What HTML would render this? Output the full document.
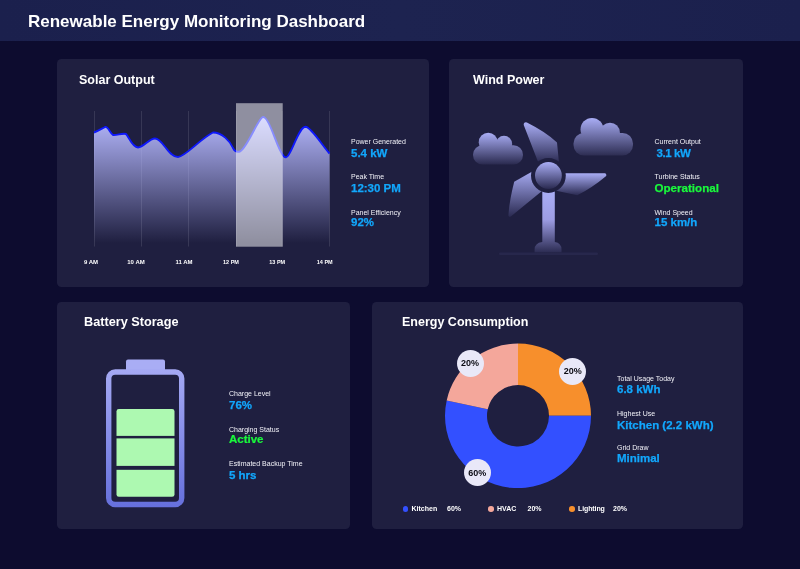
<!DOCTYPE html>
<html lang="en">
<head>
<meta charset="utf-8">
<title>Renewable Energy Monitoring Dashboard</title>
<style>
*{box-sizing:border-box;margin:0;padding:0}
html,body{width:800px;height:569px;overflow:hidden;background:#0d0c2f;font-family:"Liberation Sans",sans-serif;color:#fff}
.hdr{position:absolute;left:0;top:0;width:800px;height:41.200px;background:linear-gradient(90deg,#1b204d,#1d2350 50%,#1b204d)}
.hdr h1{position:absolute;left:28px;top:11.800px;font-size:17px;line-height:20px;font-weight:700;white-space:nowrap}
.card{position:absolute;background:#1f1f40;border-radius:4.500px}
.card h2{position:absolute;font-size:13px;line-height:16px;font-weight:700;white-space:nowrap}
.lb{position:absolute;font-size:7px;line-height:8px;white-space:nowrap;color:#f2f2f8}
.vl{position:absolute;font-size:11.5px;line-height:12px;font-weight:700;white-space:nowrap;color:#12a7fc;-webkit-text-stroke:0.250px currentColor}
.gr{color:#1af83c}
.ax{position:absolute;font-size:6px;line-height:8px;font-weight:700;white-space:nowrap;transform:translateX(-50%)}
.lg{position:absolute;font-size:7px;line-height:8px;font-weight:700;white-space:nowrap}
.dot{position:absolute;width:5.600px;height:5.600px;border-radius:50%}
.pc{position:absolute;width:27px;height:27px;border-radius:50%;background:#e9e8f8;color:#0c0c14;font-size:9px;font-weight:700;line-height:26px;text-align:center}
svg{position:absolute;left:0;top:0;overflow:visible}
</style>
</head>
<body>
<div class="hdr"><h1>Renewable Energy Monitoring Dashboard</h1></div>

<!-- Solar -->
<div class="card" style="left:57.200px;top:59px;width:371.400px;height:227.600px"></div>
<!-- Wind -->
<div class="card" style="left:449px;top:59px;width:293.800px;height:227.600px"></div>
<!-- Battery -->
<div class="card" style="left:57.200px;top:302px;width:292.800px;height:227px"></div>
<!-- Energy -->
<div class="card" style="left:372px;top:302px;width:370.800px;height:227px"></div>

<svg width="800" height="569" viewBox="0 0 800 569">
<defs>
<linearGradient id="ga" x1="0" y1="117" x2="0" y2="243" gradientUnits="userSpaceOnUse">
<stop offset="0" stop-color="#b6b9ff" stop-opacity="1"/>
<stop offset="1" stop-color="#b6b9ff" stop-opacity="0"/>
</linearGradient>
<linearGradient id="gc1" x1="0" y1="133" x2="0" y2="165" gradientUnits="userSpaceOnUse">
<stop offset="0" stop-color="#a9adf5"/><stop offset="1" stop-color="#28284c"/>
</linearGradient>
<linearGradient id="gc2" x1="0" y1="118" x2="0" y2="157" gradientUnits="userSpaceOnUse">
<stop offset="0" stop-color="#a9adf5"/><stop offset="1" stop-color="#28284c"/>
</linearGradient>
<linearGradient id="go" x1="0" y1="0" x2="0" y2="1">
<stop offset="0" stop-color="#a9adf5"/><stop offset="1" stop-color="#2a2a51"/>
</linearGradient>
<linearGradient id="gw" x1="0" y1="192" x2="0" y2="253" gradientUnits="userSpaceOnUse">
<stop offset="0" stop-color="#a9adf5"/><stop offset="0.45" stop-color="#9d9de4"/><stop offset="1" stop-color="#2a2a50"/>
</linearGradient>
<linearGradient id="gb" x1="0" y1="360" x2="0" y2="507" gradientUnits="userSpaceOnUse">
<stop offset="0" stop-color="#a9adf5"/><stop offset="1" stop-color="#6670dc"/>
</linearGradient>
</defs>

<!-- solar chart -->
<g>
<path d="M94.5 111V246.500M141.500 111V246.500M188.500 111V246.500M236.500 111V246.500M282.200 111V246.500M329.500 111V246.500" stroke="#fff" stroke-opacity="0.110" stroke-width="1" fill="none"/>
<path id="area" d="M94 132.5 C98 131 102 128.5 105 127 C108 126 110 133 113 135 C117 135.5 122 133 126 134 C129 137 132 147 138 147.5 C144 147 149 138.5 155 138.5 C163 138.5 168 157 178 157 C185 157 200 139 213 132.5 C222 132.5 230 141 233 148 C235 152 237 152.500 240 151.500 C247 148 257 121 262.300 117.300 Q263.300 116.500 264.500 117.500 C271 121 277 150 284 156.500 Q286 158.200 287.800 156 C293 150 299 127 305.500 126.800 C311 127 322 145 329.500 153.500 L329.5 246 L94 246Z" fill="url(#ga)"/>
<path d="M94 132.5 C98 131 102 128.5 105 127 C108 126 110 133 113 135 C117 135.5 122 133 126 134 C129 137 132 147 138 147.5 C144 147 149 138.5 155 138.5 C163 138.5 168 157 178 157 C185 157 200 139 213 132.5 C222 132.5 230 141 233 148 C235 152 237 152.500 240 151.500 C247 148 257 121 262.300 117.300 Q263.300 116.500 264.500 117.500 C271 121 277 150 284 156.500 Q286 158.200 287.800 156 C293 150 299 127 305.500 126.800 C311 127 322 145 329.500 153.500" fill="none" stroke="#0e18fb" stroke-width="1.900" stroke-linejoin="round"/>
<rect x="236" y="103.200" width="46.700" height="143.500" fill="#fff" fill-opacity="0.5"/>
</g>

<!-- wind -->
<g>
<g fill="url(#gc1)">
<rect x="473" y="145.300" width="50" height="19.200" rx="9.500"/>
<circle cx="488.200" cy="142.300" r="9.500"/>
<circle cx="504" cy="144" r="8.200"/>
</g>
<g fill="url(#gc2)">
<rect x="573.500" y="133" width="59.500" height="22.600" rx="10.500"/>
<circle cx="592" cy="129.500" r="11.500"/>
<circle cx="610" cy="132.600" r="9.900"/>
</g>
<path d="M538.500 163 L523.900 125.400 A2.200 2.200 0 0 1 526.900 122.500 Q546 132 557 142.500 L559 163 Z" fill="url(#go)"/>
<path d="M562 173.200 L604.700 173.300 A1.800 1.800 0 0 1 605.900 176.300 Q592 188 577.300 195.300 L555 190.500 Z" fill="url(#go)"/>
<path d="M534 170.500 L514.200 181.800 Q509.500 200 508.400 215.300 A1.500 1.500 0 0 0 510.800 216.500 L542 191 Z" fill="url(#go)"/>
<path d="M542.300 185 h12.500 v57 q6.700 1 6.700 7.500 v3 h-26.900 v-3 q0 -6.500 7.700 -7.500z" fill="url(#gw)"/>
<circle cx="548.400" cy="175.500" r="17.400" fill="#1f1f40"/>
<circle cx="548.400" cy="175.500" r="13.400" fill="url(#go)"/>
<rect x="499" y="252.500" width="99" height="2.500" rx="1.200" fill="#27274c"/>
</g>

<!-- battery -->
<g>
<rect x="126" y="359.500" width="39" height="12" rx="2" fill="#a9adf5"/>
<rect x="108.700" y="372" width="73" height="132.500" rx="6.500" fill="none" stroke="url(#gb)" stroke-width="5.400"/>
<rect x="116.500" y="409" width="58" height="87.800" rx="2.400" fill="#adf9b1"/>
<rect x="116" y="435.900" width="59" height="2.500" fill="#1f1f40"/>
<rect x="116" y="465.900" width="59" height="3.900" fill="#1f1f40"/>
</g>

<!-- donut -->
<g transform="translate(0 415.800) scale(1 0.990) translate(0 -416)">
<path d="M518.00 343.00A73 73 0 0 1 591.00 416.00L549.00 416.00A31 31 0 0 0 518.00 385.00Z" fill="#f78f2c"/>
<path d="M591.00 416.00A73 73 0 1 1 446.68 400.45L487.71 409.40A31 31 0 1 0 549.00 416.00Z" fill="#3350ff"/>
<path d="M446.68 400.45A73 73 0 0 1 518.00 343.00L518.00 385.00A31 31 0 0 0 487.71 409.40Z" fill="#f4a79b"/>
</g>
</svg>

<h2 class="card" style="background:none;left:79px;top:71.500px;font-size:12.500px;line-height:16px">Solar Output</h2>
<h2 class="card" style="background:none;left:473px;top:71.500px;font-size:12.500px;line-height:16px">Wind Power</h2>
<h2 class="card" style="background:none;left:84px;top:314px;font-size:12.700px;line-height:16px">Battery Storage</h2>
<h2 class="card" style="background:none;left:402px;top:314px;font-size:12.500px;line-height:16px">Energy Consumption</h2>

<div class="ax" style="left:91px;top:258px">9 AM</div>
<div class="ax" style="left:136px;top:258px">10 AM</div>
<div class="ax" style="left:184px;top:258px">11 AM</div>
<div class="ax" style="left:231px;top:258px;font-size:5.500px">12 PM</div>
<div class="ax" style="left:277.200px;top:258px;font-size:5.500px">13 PM</div>
<div class="ax" style="left:324.700px;top:258px;font-size:5.500px">14 PM</div>

<div class="lb" style="left:351px;top:137.500px">Power Generated</div>
<div class="vl" style="left:351px;top:147px">5.4 kW</div>
<div class="lb" style="left:351px;top:173px">Peak Time</div>
<div class="vl" style="left:351px;top:182px">12:30 PM</div>
<div class="lb" style="left:351px;top:208.500px">Panel Efficiency</div>
<div class="vl" style="left:351px;top:216px">92%</div>

<div class="lb" style="left:654.500px;top:137.500px">Current Output</div>
<div class="vl" style="left:656.500px;top:146.600px;letter-spacing:-0.400px">3.1 kW</div>
<div class="lb" style="left:654.500px;top:173.400px">Turbine Status</div>
<div class="vl gr" style="left:654.500px;top:182.200px;font-size:11.600px">Operational</div>
<div class="lb" style="left:654.500px;top:208.500px">Wind Speed</div>
<div class="vl" style="left:654.500px;top:216px">15 km/h</div>

<div class="lb" style="left:229px;top:390px">Charge Level</div>
<div class="vl" style="left:229px;top:399px">76%</div>
<div class="lb" style="left:229px;top:426px">Charging Status</div>
<div class="vl gr" style="left:229px;top:433.700px;transform:scaleY(0.87);transform-origin:0 2px">Active</div>
<div class="lb" style="left:229px;top:459.500px">Estimated Backup Time</div>
<div class="vl" style="left:229px;top:468.500px">5 hrs</div>

<div class="lb" style="left:617px;top:374.500px">Total Usage Today</div>
<div class="vl" style="left:617px;top:383.200px">6.8 kWh</div>
<div class="lb" style="left:617px;top:409.500px">Highest Use</div>
<div class="vl" style="left:617px;top:419px">Kitchen (2.2 kWh)</div>
<div class="lb" style="left:617px;top:444px">Grid Draw</div>
<div class="vl" style="left:617px;top:451.800px">Minimal</div>

<div class="pc" style="left:456.500px;top:349.900px">20%</div>
<div class="pc" style="left:559.300px;top:357.900px">20%</div>
<div class="pc" style="left:463.700px;top:459.300px;line-height:28px">60%</div>

<div class="dot" style="left:402.900px;top:506.100px;background:#3350ff"></div>
<div class="lg" style="left:411.500px;top:505.300px">Kitchen</div>
<div class="lg" style="left:447px;top:505.300px">60%</div>
<div class="dot" style="left:488.400px;top:506.100px;background:#f4a79b"></div>
<div class="lg" style="left:497px;top:505.300px">HVAC</div>
<div class="lg" style="left:527.500px;top:505.300px">20%</div>
<div class="dot" style="left:569.200px;top:506.100px;background:#f78f2c"></div>
<div class="lg" style="left:578px;top:505.300px;letter-spacing:-0.100px">Lighting</div>
<div class="lg" style="left:613px;top:505.300px">20%</div>

</body>
</html>
